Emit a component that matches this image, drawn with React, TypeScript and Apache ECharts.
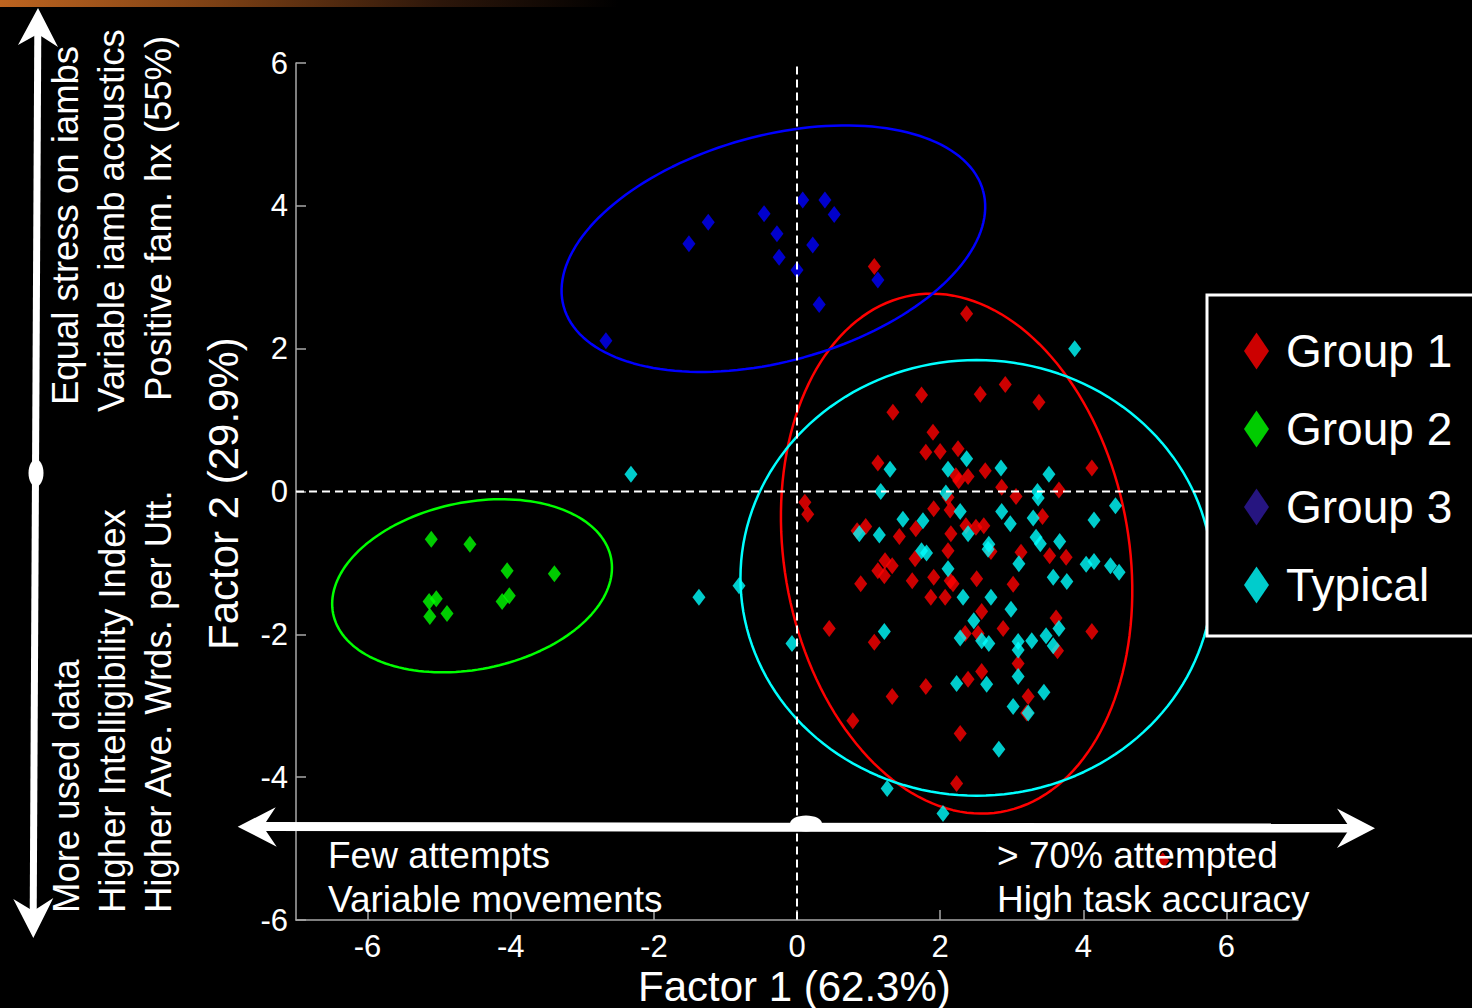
import React, { useEffect, useRef } from "react";
import * as echarts from "echarts";

const FONT = "'Liberation Sans', Arial, Helvetica, sans-serif";

const seriesNames = ["Group 1", "Group 2", "Group 3", "Typical"];
const markerColors = ["#ff0000", "#00ff00", "#0000ff", "#00ffff"];
const legendColors = ["#ff0000", "#00ff00", "#301aa0", "#00ffff"];

const xTickValues = [-6, -4, -2, 0, 2, 4, 6];
const yTickValues = [-6, -4, -2, 0, 2, 4, 6];

const group1 = [
  [1.74, 1.35], [2.56, 1.36], [2.91, 1.5], [3.38, 1.25], [1.34, 1.11], [1.9, 0.83],
  [1.8, 0.55], [2.0, 0.56], [2.25, 0.6], [1.13, 0.4], [2.22, 0.22], [2.39, 0.21],
  [2.26, 0.15], [2.63, 0.29], [4.12, 0.33], [2.86, 0.06], [3.06, -0.07], [3.66, 0.02],
  [0.11, -0.15], [0.15, -0.32], [1.91, -0.24], [2.14, -0.26], [2.11, -0.08], [3.43, -0.35],
  [0.96, -0.49], [0.84, -0.55], [1.66, -0.52], [1.43, -0.63], [2.15, -0.59], [2.36, -0.48],
  [2.5, -0.5], [2.61, -0.48], [2.11, -0.83], [1.65, -0.94], [2.71, -0.84], [3.13, -0.85],
  [3.53, -0.9], [3.76, -0.92], [1.23, -0.97], [1.33, -1.04], [1.13, -1.11], [1.22, -1.18],
  [0.89, -1.29], [1.61, -1.25], [1.91, -1.2], [2.14, -1.25], [2.18, -1.29], [2.51, -1.22],
  [3.02, -1.3], [1.87, -1.48], [2.07, -1.48], [2.58, -1.68], [0.45, -1.92], [1.08, -2.11],
  [2.35, -1.99], [2.53, -1.99], [2.88, -1.92], [3.62, -1.77], [3.64, -2.23], [4.12, -1.96],
  [3.09, -2.41], [2.39, -2.63], [2.58, -2.52], [1.8, -2.73], [1.33, -2.87], [3.23, -2.87],
  [3.21, -3.1], [0.78, -3.21], [2.28, -3.39], [2.23, -4.09], [1.08, 3.15], [2.37, 2.49],
  [5.11, -5.17],
];

const group2 = [
  [-5.11, -0.67], [-4.57, -0.74], [-4.05, -1.11], [-3.39, -1.15], [-5.04, -1.5],
  [-5.14, -1.54], [-4.02, -1.46], [-4.12, -1.54], [-5.13, -1.75], [-4.89, -1.71],
];

const group3 = [
  [0.08, 4.08], [0.39, 4.08], [0.52, 3.88], [-0.46, 3.89], [-1.24, 3.77], [-1.51, 3.47],
  [-0.28, 3.61], [0.22, 3.45], [-0.25, 3.28], [0.0, 3.1], [1.13, 2.96], [0.31, 2.62],
  [-2.67, 2.11],
];

const typical = [
  [2.37, 0.46], [1.3, 0.31], [2.11, 0.31], [2.85, 0.33], [3.52, 0.24], [1.17, 0.0],
  [2.08, -0.02], [3.36, 0.0], [3.37, -0.09], [4.45, -0.2], [2.28, -0.28], [2.86, -0.28],
  [1.48, -0.39], [1.76, -0.41], [3.3, -0.37], [4.15, -0.4], [2.98, -0.45], [0.87, -0.59],
  [1.15, -0.61], [2.39, -0.59], [3.34, -0.64], [3.4, -0.73], [3.67, -0.7], [2.68, -0.74],
  [2.67, -0.81], [1.74, -0.83], [1.81, -0.86], [3.1, -1.01], [4.04, -1.02], [4.15, -0.98],
  [4.38, -1.04], [4.5, -1.13], [2.11, -1.08], [3.58, -1.2], [3.77, -1.26], [2.32, -1.48],
  [2.71, -1.48], [2.99, -1.65], [2.47, -1.81], [3.66, -1.92], [1.22, -1.96], [-0.07, -2.13],
  [2.28, -2.05], [2.58, -2.09], [2.68, -2.13], [3.09, -2.1], [3.09, -2.22], [3.28, -2.09],
  [3.48, -2.02], [3.58, -2.16], [3.09, -2.59], [2.23, -2.69], [2.65, -2.7], [3.45, -2.81],
  [3.02, -3.01], [3.23, -3.1], [2.82, -3.61], [1.26, -4.16], [2.04, -4.51], [-2.32, 0.24],
  [-1.37, -1.48], [-0.81, -1.32], [3.88, 2.0],
];

// confidence ellipses: centre, semi-axes (data units), rotation in degrees
const ellipseCx = [2.23, -4.54, -0.33, 2.51];
const ellipseCy = [-0.87, -1.32, 3.4, -1.21];
const ellipseA = [2.41, 1.98, 3.04, 3.3];
const ellipseB = [3.67, 1.17, 1.58, 3.05];
const ellipseAngle = [9.7, 11.4, 15.5, 0];

const vLineData = [[0, 5.95], [0, -6]];
const hLineData = [[-7, 0], [7, 0]];

function ellipsePoints(i: number) {
  const pts: number[][] = [];
  const th = (ellipseAngle[i] * Math.PI) / 180;
  const n = 160;
  for (let k = 0; k <= n; k++) {
    const t = (k / n) * Math.PI * 2;
    const ca = ellipseA[i] * Math.cos(t);
    const sb = ellipseB[i] * Math.sin(t);
    pts.push([
      ellipseCx[i] + ca * Math.cos(th) - sb * Math.sin(th),
      ellipseCy[i] + ca * Math.sin(th) + sb * Math.cos(th),
    ]);
  }
  return pts;
}

const groups = [group1, group2, group3, typical];

export default function App() {
  const ref = useRef<HTMLDivElement>(null);
  useEffect(() => {
    if (!ref.current) return;
    const chart = echarts.init(ref.current, undefined, { renderer: "svg" });
    const white = "#ffffff";
    const txt = (text: string, x: number, y: number, size: number, rot = 0, align = "left") => ({
      type: "text",
      x,
      y,
      rotation: rot,
      z: 200,
      style: {
        text,
        fill: white,
        fontSize: size,
        fontFamily: FONT,
        align,
        verticalAlign: "middle",
      },
    });
    const option: any = {
      animation: false,
      backgroundColor: "#000000",
      grid: { left: 296, right: 174, top: 63, bottom: 88 },
      xAxis: {
        type: "value",
        min: -7,
        max: 7,
        splitLine: { show: false },
        axisLine: { onZero: false, lineStyle: { color: "#a8a8a8", width: 1.5 } },
        axisTick: { inside: true, length: 10, customValues: xTickValues, lineStyle: { color: "#a8a8a8", width: 1.5 } },
        axisLabel: { customValues: xTickValues, color: white, fontSize: 31, fontFamily: FONT, margin: 11 },
      },
      yAxis: {
        type: "value",
        min: -6,
        max: 6,
        splitLine: { show: false },
        axisLine: { onZero: false, lineStyle: { color: "#a8a8a8", width: 1.5 } },
        axisTick: { inside: true, length: 10, customValues: yTickValues, lineStyle: { color: "#a8a8a8", width: 1.5 } },
        axisLabel: { customValues: yTickValues, color: white, fontSize: 31, fontFamily: FONT, margin: 8 },
      },
      legend: {
        orient: "vertical",
        left: 1207,
        top: 295,
        padding: [33, 40, 28, 37],
        itemWidth: 49,
        itemHeight: 37,
        itemGap: 32,
        icon: "path://M12.5,0L25,18.5L12.5,37L0,18.5Z",
        backgroundColor: "#000000",
        borderColor: white,
        borderWidth: 3,
        textStyle: { color: white, fontSize: 46, fontFamily: FONT },
        data: seriesNames.map((n, i) => ({ name: n, itemStyle: { color: legendColors[i] } })),
        z: 50,
      },
      series: [
        ...groups.map((_, i) => ({
          type: "line",
          name: seriesNames[i] + " ellipse",
          data: ellipsePoints(i),
          showSymbol: false,
          silent: true,
          lineStyle: { color: markerColors[i], width: 2.5 },
          z: 1,
        })),
        ...groups.map((g, i) => ({
          type: "scatter",
          name: seriesNames[i],
          data: g,
          symbol: "diamond",
          symbolSize: [13, 17],
          itemStyle: { color: markerColors[i] },
          z: 2,
        })),
        {
          type: "line",
          data: vLineData,
          showSymbol: false,
          silent: true,
          lineStyle: { color: white, width: 2, type: [8, 5] },
          z: 3,
        },
        {
          type: "line",
          data: hLineData,
          showSymbol: false,
          silent: true,
          lineStyle: { color: white, width: 2, type: [8, 5] },
          z: 3,
        },
      ],
      graphic: [
        {
          type: "rect",
          shape: { x: 0, y: 0, width: 1472, height: 7 },
          z: 200,
          style: {
            fill: new echarts.graphic.LinearGradient(0, 0, 1, 0, [
              { offset: 0, color: "#bd6420" },
              { offset: 0.15, color: "#7a3f14" },
              { offset: 0.3, color: "#2c160a" },
              { offset: 0.42, color: "#000000" },
            ]),
          },
        },
        txt("Factor 1 (62.3%)", 638, 986, 42),
        txt("Factor 2 (29.9%)", 223, 650, 42, Math.PI / 2),
        txt("Few attempts", 328, 855, 37),
        txt("Variable movements", 328, 899, 37),
        txt("> 70% attempted", 997, 855, 37),
        txt("High task accuracy", 997, 899, 37),
        txt("Equal stress on iambs", 65, 405, 36.5, Math.PI / 2),
        txt("Variable iamb acoustics", 111, 412, 36.5, Math.PI / 2),
        txt("Positive fam. hx (55%)", 158, 401, 36.5, Math.PI / 2),
        txt("More used data", 66, 913, 36.5, Math.PI / 2),
        txt("Higher Intelligibility Index", 112, 913, 36.5, Math.PI / 2),
        txt("Higher Ave. Wrds. per Utt.", 158, 913, 36.5, Math.PI / 2),
        // vertical arrow
        { type: "line", z: 210, shape: { x1: 37.8, y1: 30, x2: 33.2, y2: 915 }, style: { stroke: white, lineWidth: 7 } },
        { type: "polygon", z: 210, shape: { points: [[38, 8], [58, 47], [37.8, 34], [18, 45]] }, style: { fill: white } },
        { type: "polygon", z: 210, shape: { points: [[33.3, 938], [13.3, 899], [33.2, 911], [53.3, 898]] }, style: { fill: white } },
        { type: "ellipse", z: 210, shape: { cx: 36, cy: 473, rx: 7.5, ry: 13.5 }, style: { fill: white } },
        // horizontal arrow
        { type: "line", z: 210, shape: { x1: 258, y1: 826.5, x2: 1355, y2: 828 }, style: { stroke: white, lineWidth: 9 } },
        { type: "polygon", z: 210, shape: { points: [[237.7, 826.7], [275.7, 807.3], [263, 826.6], [276.7, 846.7]] }, style: { fill: white } },
        { type: "polygon", z: 210, shape: { points: [[1375, 828.2], [1337, 808.5], [1350, 828], [1337, 848]] }, style: { fill: white } },
        { type: "ellipse", z: 210, shape: { cx: 806, cy: 823.5, rx: 16, ry: 8 }, style: { fill: white } },
      ],
    };
    chart.setOption(option);
    return () => chart.dispose();
  }, []);
  return (
    <div style={{ position: "fixed", left: 0, top: 0, width: 1472, height: 1008, background: "#000" }}>
      <div ref={ref} style={{ width: 1472, height: 1008 }} />
    </div>
  );
}
